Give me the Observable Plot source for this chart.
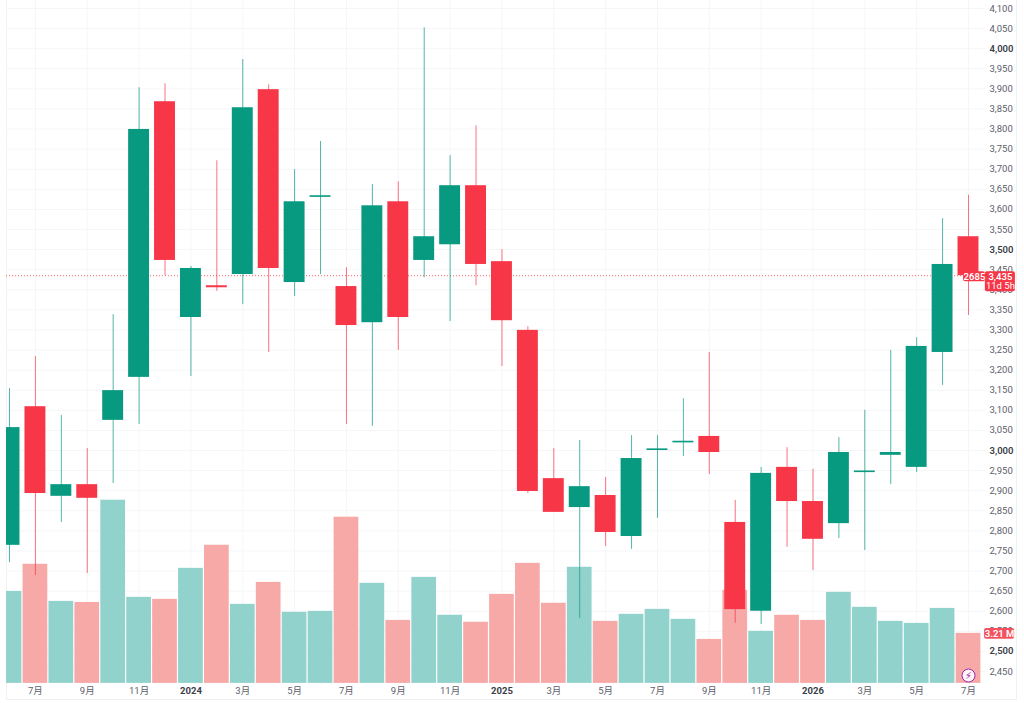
<!DOCTYPE html>
<html>
<head>
<meta charset="utf-8">
<script src="https://cdn.jsdelivr.net/npm/d3@7"></script>
<script src="https://cdn.jsdelivr.net/npm/@observablehq/plot@0.6"></script>
<style>
html,body{margin:0;padding:0;background:#fff;width:1024px;height:703px;overflow:hidden}
#chart{position:relative;width:1024px;height:703px}
#box{position:absolute;left:6px;top:0;width:1011px;height:700px;border:1px solid #f0f1f3;border-top:none;box-sizing:border-box}
#chart svg{position:absolute;left:0;top:0;background:transparent}
</style>
</head>
<body>
<div id="chart"><div id="box"></div></div>
<script>
const months = ["2023-06","2023-07","2023-08","2023-09","2023-10","2023-11","2023-12",
  "2024-01","2024-02","2024-03","2024-04","2024-05","2024-06","2024-07","2024-08","2024-09","2024-10","2024-11","2024-12",
  "2025-01","2025-02","2025-03","2025-04","2025-05","2025-06","2025-07","2025-08","2025-09","2025-10","2025-11","2025-12",
  "2026-01","2026-02","2026-03","2026-04","2026-05","2026-06","2026-07"];
const opens  = [2764,3109,2886,2915,3075,3182,3868,3331,3410,3438,3898,3418,3630,3408,3318,3619,3473,3512,3659,3470,3299,2930,2858,2888,2786,3000,3019,3035,2821,2600,2958,2873,2818,2945,2988,2958,3244,3532];
const highs  = [3154,3234,3087,3005,3338,3903,3913,3458,3721,3973,3910,3699,3769,3455,3662,3669,4052,3734,3808,3500,3308,3005,3025,2933,3037,3037,3129,3244,2876,2958,3007,2953,3032,3100,3249,3281,3577,3635];
const lows   = [2721,2689,2821,2694,2918,3065,3435,3184,3396,3363,3244,3383,3438,3065,3060,3249,3430,3321,3410,3209,2893,2846,2582,2761,2754,2831,2985,2940,2570,2567,2759,2701,2781,2751,2915,2945,3162,3336];
const closes = [3057,2893,2915,2881,3149,3799,3473,3453,3405,3853,3453,3619,3634,3311,3609,3331,3532,3659,3463,3323,2898,2846,2910,2796,2980,3004,3023,2995,2604,2943,2873,2779,2995,2949,2995,3259,3463,3435];
const volumes = [5.9,7.64,5.26,5.19,11.75,5.52,5.39,7.38,8.86,5.07,6.48,4.56,4.62,10.66,6.42,4.04,6.8,4.37,3.92,5.71,7.7,5.14,7.45,3.98,4.43,4.75,4.11,2.82,5.97,3.34,4.37,4.04,5.84,4.88,3.98,3.85,4.81,3.21];
const monthTicks = [1,3,5,9,11,13,15,17,21,23,25,27,29,33,35,37];
const monthTickLabels = ["7月","9月","11月","3月","5月","7月","9月","11月","3月","5月","7月","9月","11月","3月","5月","7月"];
const yearTicks = [7,19,31];
const yearTickLabels = ["2024","2025","2026"];
const gridX = [1,3,5,7,9,11,13,15,17,19,21,23,25,27,29,31,33,35,37];
const priceTicks = d3.range(2450, 4101, 50);
const roundTicks = [2500,3000,3500,4000];

const UP = "#089981", DOWN = "#f73748";
const VOL_UP = "#92d2cc", VOL_DOWN = "#f7a9a7";
const AXIS = "#5d606b", GRID = "#f5f6f8";
const FONT = "Roboto, 'Noto Sans CJK SC', sans-serif";

// The volume pane shares the price axis: 0 sits at the pane's floor.
const volAsPrice = d3.scaleLinear([0, 1], [2420.4, 2459.2]);
const idx = months.map((_, i) => i);
const isUp = i => closes[i] >= opens[i];
const last = idx.length - 1;

const plot = Plot.plot({
  width: 1024, height: 703,
  marginLeft: 6, marginRight: 39, marginTop: 0, marginBottom: 20,
  style: {background: "transparent", fontFamily: FONT},
  x: {type: "linear", domain: [0, 37], range: [9, 968]},
  y: {type: "linear", domain: [4100, 2450], range: [8, 671]},
  marks: [
    Plot.gridX(gridX, {stroke: GRID, strokeOpacity: 1}),
    Plot.gridY(priceTicks, {stroke: GRID, strokeOpacity: 1}),
    Plot.rect(idx, {
      x1: i => i - 0.5, x2: i => i + 0.5,
      y1: () => volAsPrice(0), y2: i => volAsPrice(volumes[i]),
      fill: i => isUp(i) ? VOL_UP : VOL_DOWN,
      insetLeft: 0.6, insetRight: 0.6, clip: true
    }),
    Plot.ruleY([3435], {stroke: DOWN, strokeWidth: 1, strokeDasharray: "1 2", strokeOpacity: 0.8}),
    Plot.ruleX(idx, {
      x: i => i, y1: i => lows[i], y2: i => highs[i],
      stroke: i => isUp(i) ? UP : DOWN, strokeWidth: 1, strokeOpacity: 0.7, clip: true
    }),
    Plot.rect(idx, {
      x1: i => i - 0.5, x2: i => i + 0.5,
      y1: i => opens[i], y2: i => closes[i],
      fill: i => isUp(i) ? UP : DOWN,
      insetLeft: 2.5, insetRight: 2.5, clip: true
    }),
    Plot.axisX({
      ticks: monthTicks, tickFormat: d => monthTickLabels[monthTicks.indexOf(d)],
      tickSize: 0, tickPadding: 4, fontSize: 9.5, fill: AXIS, label: null
    }),
    Plot.axisX({
      ticks: yearTicks, tickFormat: d => yearTickLabels[yearTicks.indexOf(d)],
      tickSize: 0, tickPadding: 4, fontSize: 9.5, fontWeight: 700, fill: "#3a3d47", label: null
    }),
    Plot.axisY({
      anchor: "right", ticks: priceTicks.filter(t => !roundTicks.includes(t)),
      tickFormat: d3.format(","), tickSize: 0, tickPadding: 4, fontSize: 9.5, fill: AXIS, label: null
    }),
    Plot.axisY({
      anchor: "right", ticks: roundTicks,
      tickFormat: d3.format(","), tickSize: 0, tickPadding: 4, fontSize: 9.5, fontWeight: 600, fill: "#3a3d47", label: null
    }),
    // current price tag
    Plot.rect([0], {x1: last + 0.65, x2: last + 1.81, y1: 3445, y2: 3395, fill: DOWN, rx: 2}),
    Plot.rect([0], {x1: last - 0.19, x2: last + 0.65, y1: 3445, y2: 3420, fill: DOWN, rx: 2}),
    Plot.text(["2685"], {x: last + 0.23, y: 3433, fill: "#fff", fontSize: 9.5, fontWeight: 600}),
    Plot.text(["3,435"], {x: last + 1.23, y: 3433, fill: "#fff", fontSize: 9.5, fontWeight: 600}),
    Plot.text(["11d 5h"], {x: last + 1.23, y: 3409, fill: "#fff", fontSize: 9.5}),
    // current volume tag
    Plot.rect([0], {x1: last + 0.62, x2: last + 1.78, y1: 2557, y2: 2530, fill: "#f4525f", rx: 2}),
    Plot.text(["3.21 M"], {x: last + 1.2, y: 2543, fill: "#fff", fontSize: 9.5, fontWeight: 600}),
    // flash marker
    Plot.dot([last], {x: d => d, y: 2440, r: 6.5, fill: "#fff", fillOpacity: 0.9, stroke: "#9c27b0", strokeWidth: 1}),
    Plot.text(["⚡"], {x: last, y: 2440, fill: "#9c27b0", fontSize: 10, fontWeight: 700, fontFamily: "DejaVu Sans"})
  ]
});
document.getElementById("chart").appendChild(plot);
</script>
</body>
</html>
